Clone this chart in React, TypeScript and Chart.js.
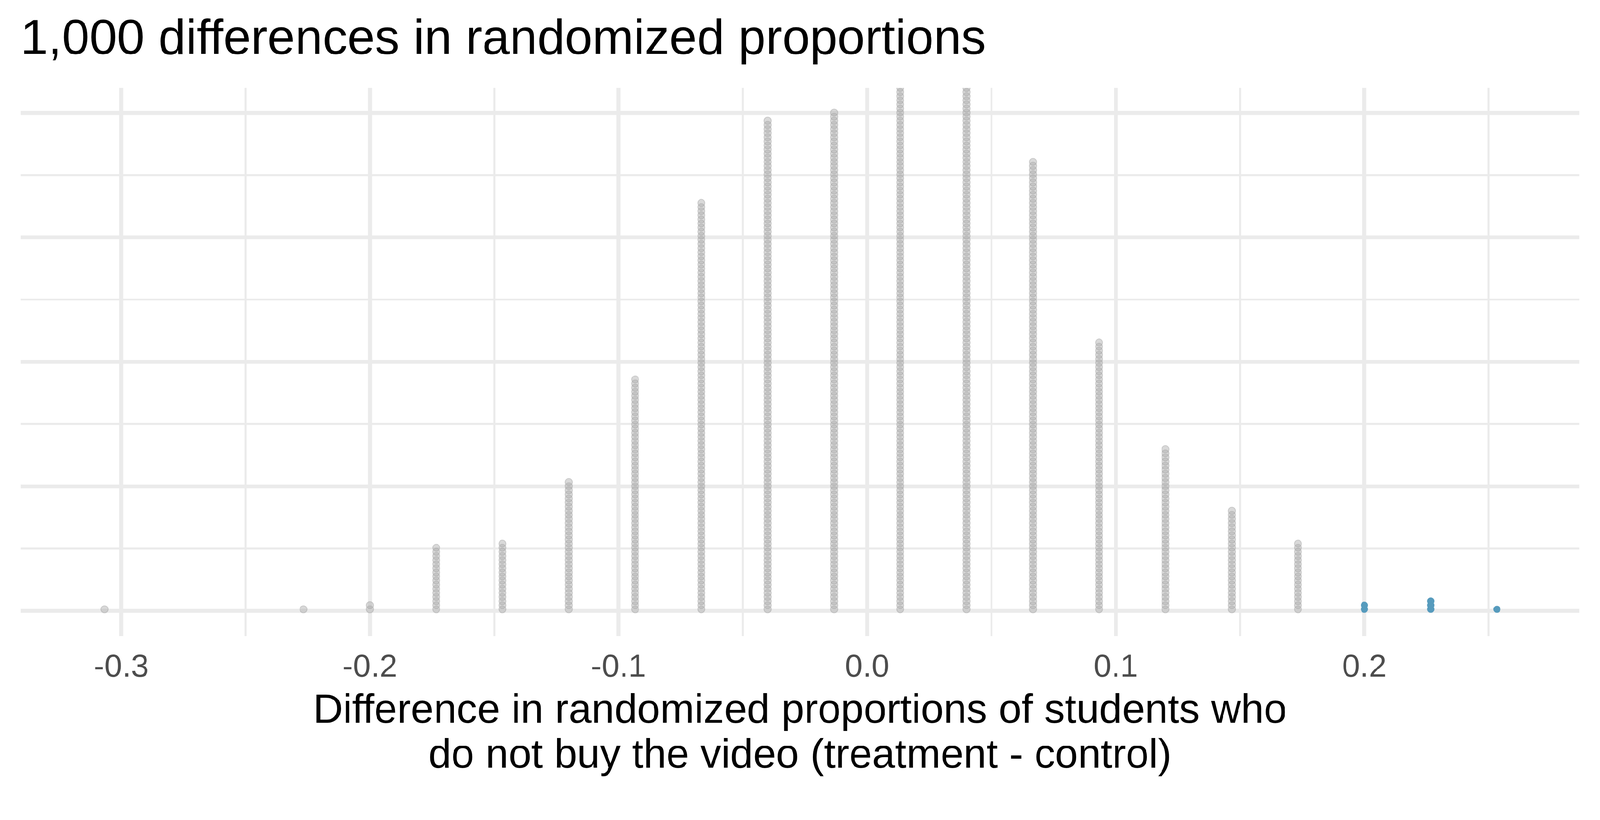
import React, { useEffect, useRef, useState } from 'react';
import Chart from 'chart.js/auto';

// x position of each stack (difference in randomized proportions)
const DIFFS = [
  -0.3067, -0.2267, -0.2, -0.1733, -0.1467, -0.12, -0.0933, -0.0667, -0.04, -0.0133,
  0.0133, 0.04, 0.0667, 0.0933, 0.12, 0.1467, 0.1733, 0.2, 0.2267, 0.2533,
];
// number of simulated differences in each stack (total 1,000)
const COUNTS = [1, 1, 2, 16, 17, 32, 57, 100, 120, 122, 134, 134, 110, 66, 40, 25, 17, 2, 3, 1];
const OBSERVED = 0.2;

const X_TICKS = [-0.3, -0.25, -0.2, -0.15, -0.1, -0.05, 0, 0.05, 0.1, 0.15, 0.2, 0.25];
const Y_GRID = [0, 0.125, 0.25, 0.375, 0.5, 0.625, 0.75, 0.875, 1];

const TITLE = '1,000 differences in randomized proportions';
const X_TITLE = ['Difference in randomized proportions of students who', 'do not buy the video (treatment - control)'];

// stacking geometry in y units
const DOT_STEP = 0.00824;
const DOT_BASE = 0.0035;

const W = 4200;
const H = 2100;
const FONT = 'Liberation Sans, Arial, Helvetica, sans-serif';
const GRID = '#EBEBEB';

const stack = (keep: (x: number) => boolean) => {
  const pts: { x: number; y: number }[] = [];
  DIFFS.forEach((x, i) => {
    if (!keep(x)) return;
    for (let k = 0; k < COUNTS[i]; k++) pts.push({ x, y: DOT_BASE + k * DOT_STEP });
  });
  return pts;
};

const isMajor = (v: number, step: number) => Math.abs(v / step - Math.round(v / step)) < 1e-6;

const fitScale = () => Math.min(1, window.innerWidth / W, window.innerHeight / H);

const DotPlot: React.FC = () => {
  const chartRef = useRef<HTMLCanvasElement>(null);
  const chartInstance = useRef<Chart | null>(null);
  const [scale] = useState(fitScale);

  useEffect(() => {
    if (chartRef && chartRef.current) {
      if (chartInstance.current) {
        chartInstance.current.destroy();
      }

      const chart = new Chart(chartRef.current, {
        type: 'scatter',
        data: {
          datasets: [
            {
              data: stack((x) => x < OBSERVED - 1e-6),
              pointRadius: 9.5,
              pointBackgroundColor: 'rgba(170,170,170,0.45)',
              pointBorderColor: 'rgba(160,160,160,0.45)',
              pointBorderWidth: 2,
              clip: 0,
            },
            {
              data: stack((x) => x >= OBSERVED - 1e-6),
              pointRadius: 9,
              pointBackgroundColor: '#569BBD',
              pointBorderColor: '#569BBD',
              pointBorderWidth: 1,
              clip: 0,
            },
          ],
        },
        options: {
          animation: false,
          responsive: false,
          devicePixelRatio: 1,
          events: [],
          layout: { padding: { left: 54, right: 54, top: 0, bottom: 0 } },
          plugins: {
            legend: { display: false },
            tooltip: { enabled: false },
            title: {
              display: true,
              text: TITLE,
              align: 'start',
              color: '#000000',
              font: { family: FONT, size: 130, weight: 'normal', lineHeight: 1.2 },
              padding: { top: 28, bottom: 47 },
            },
          },
          scales: {
            x: {
              type: 'linear',
              min: -0.3405,
              max: 0.2865,
              afterBuildTicks: (axis: any) => {
                axis.ticks = X_TICKS.map((value) => ({ value }));
              },
              afterFit: (axis: any) => {
                axis.height = 430;
              },
              border: { display: false },
              grid: {
                color: GRID,
                drawTicks: false,
                lineWidth: (ctx: any) => (isMajor(ctx.tick.value, 0.1) ? 10.5 : 5.3),
              },
              ticks: {
                autoSkip: false,
                maxRotation: 0,
                padding: 33,
                color: '#4D4D4D',
                font: { family: FONT, size: 84, lineHeight: 1.2 },
                callback: (v: any) => (isMajor(Number(v), 0.1) ? Number(v).toFixed(1) : ''),
              },
              title: {
                display: true,
                text: X_TITLE,
                color: '#000000',
                font: { family: FONT, size: 108, lineHeight: 118 / 108 },
                padding: { top: 0, bottom: 55 },
              },
            },
            y: {
              type: 'linear',
              min: -0.05,
              max: 1.05,
              afterBuildTicks: (axis: any) => {
                axis.ticks = Y_GRID.map((value) => ({ value }));
              },
              border: { display: false },
              grid: {
                color: GRID,
                drawTicks: false,
                lineWidth: (ctx: any) => (isMajor(ctx.tick.value, 0.25) ? 10.5 : 5.3),
              },
              ticks: { display: false },
            },
          },
        },
      });
      chartInstance.current = chart;
    }

    return () => {
      if (chartInstance.current) {
        chartInstance.current.destroy();
        chartInstance.current = null;
      }
    };
  }, []);

  // the window may be a little smaller than the 4200x2100 picture, so shrink to fit
  return (
    <div
      style={{
        position: 'fixed',
        left: 0,
        top: 0,
        width: W,
        height: H,
        background: '#ffffff',
        transform: `scale(${scale})`,
        transformOrigin: '0 0',
      }}
    >
      <canvas ref={chartRef} width={W} height={H} style={{ width: W, height: H }} />
    </div>
  );
};

export default function App() {
  return <DotPlot />;
}
